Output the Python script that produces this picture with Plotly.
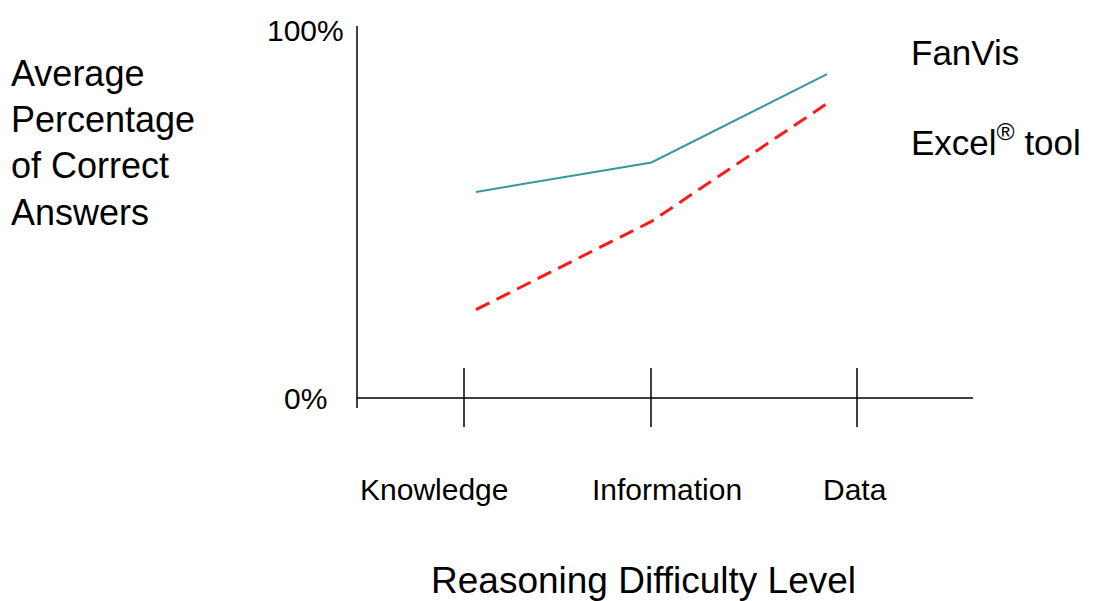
import plotly.graph_objects as go

# ---- data ----
categories = ["Knowledge", "Information", "Data"]
fanvis = [56, 64, 88]
excel = [24, 48, 80]
series_names = ["FanVis", "Excel<sup>®</sup> tool"]
y_tick_vals = [0, 100]
y_tick_text = ["0%", "100%"]
y_title_lines = ["Average", "Percentage", "of Correct", "Answers"]
x_title = "Reasoning Difficulty Level"

# ---- layout constants (pixels -> axis) ----
W, H = 1098, 601
FONT = "Liberation Sans, Arial, sans-serif"
px_per_x = 175.5
px_per_y = 3.68
x0_px = 476          # pixel of first category
y0_px = 398          # pixel of 0%
plot_l, plot_r, plot_t, plot_b = 340, 990, 26, 430

def xd(px):
    return (px - x0_px) / px_per_x

def yd(py):
    return (y0_px - py) / px_per_y

def xp(px):
    return (px - plot_l) / (plot_r - plot_l)

def yp(py):
    return (plot_b - py) / (plot_b - plot_t)

xs = list(range(len(categories)))

fig = go.Figure()
fig.add_trace(go.Scatter(x=xs, y=fanvis, mode="lines", name="FanVis",
                         line=dict(color="#339999", width=2), showlegend=False))
fig.add_trace(go.Scatter(x=xs, y=excel, mode="lines", name="Excel tool",
                         line=dict(color="#FF1A1A", width=3, dash="15px,8px"),
                         showlegend=False))

shapes = []
# y axis line
shapes.append(dict(type="line", xref="x", yref="y", x0=xd(357), x1=xd(357),
                   y0=yd(408), y1=yd(26), line=dict(color="black", width=1.5)))
# x axis line
shapes.append(dict(type="line", xref="x", yref="y", x0=xd(357), x1=xd(973),
                   y0=0, y1=0, line=dict(color="black", width=1.5)))
# tick marks
tick_px = [464, 651, 857]
for t in tick_px:
    shapes.append(dict(type="line", xref="x", yref="y", x0=xd(t), x1=xd(t),
                       y0=yd(368), y1=yd(427), line=dict(color="black", width=1.5)))

ann = []
label_px = [434, 667, 855]
for cat, lp in zip(categories, label_px):
    ann.append(dict(x=xp(lp), y=yp(490), xref="paper", yref="paper", text=cat,
                    showarrow=False, xanchor="center", yanchor="middle",
                    font=dict(size=30, color="black", family=FONT)))
for v, t in zip(y_tick_vals, y_tick_text):
    ann.append(dict(x=xp(305), y=yp(y0_px - v * px_per_y), xref="paper", yref="paper",
                    text=t, showarrow=False, xanchor="center", yanchor="middle",
                    font=dict(size=30, color="black", family=FONT)))
# y title (four lines)
title_y_px = [73, 119, 165, 212]
for line, py in zip(y_title_lines, title_y_px):
    ann.append(dict(x=xp(9), y=yp(py), xref="paper", yref="paper", text=line,
                    showarrow=False, xanchor="left", yanchor="middle",
                    font=dict(size=36, color="black", family=FONT)))
# x title
ann.append(dict(x=xp(643), y=yp(580), xref="paper", yref="paper", text=x_title,
                showarrow=False, xanchor="center", yanchor="middle",
                font=dict(size=37, color="black", family=FONT)))
# legend labels
legend_y_px = [53, 140]
for name, py in zip(series_names, legend_y_px):
    ann.append(dict(x=xp(909), y=yp(py), xref="paper", yref="paper", text=name,
                    showarrow=False, xanchor="left", yanchor="middle",
                    font=dict(size=35, color="black", family=FONT)))

fig.update_layout(
    width=W, height=H,
    margin=dict(l=plot_l, r=W - plot_r, t=plot_t, b=H - plot_b, pad=0),
    paper_bgcolor="white", plot_bgcolor="white",
    xaxis=dict(range=[xd(plot_l), xd(plot_r)], visible=False, fixedrange=True),
    yaxis=dict(range=[yd(plot_b), yd(plot_t)], visible=False, fixedrange=True),
    shapes=shapes, annotations=ann, showlegend=False,
)
fig.write_html("out.html", config={"displayModeBar": False},
               post_script="document.body.style.margin='0';document.body.style.overflow='hidden';")
